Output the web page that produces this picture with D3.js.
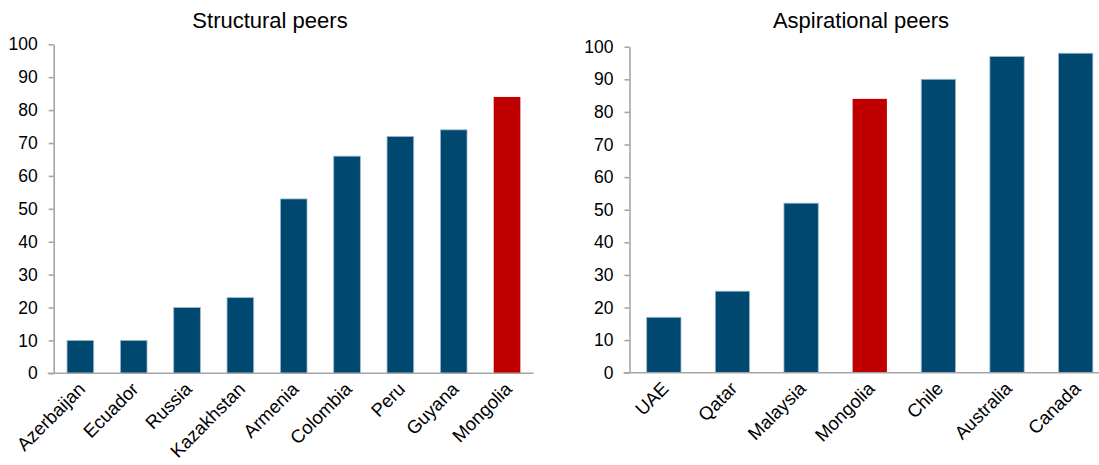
<!DOCTYPE html>
<html>
<head>
<meta charset="utf-8">
<script src="https://cdn.jsdelivr.net/npm/d3@7"></script>
<style>
  body { margin: 0; background: #fff; }
  text { font-family: "Liberation Sans", Arial, sans-serif; fill: #000; }
</style>
</head>
<body>
<div id="chart"></div>
<script>
// structural peers
var structCountries = ["Azerbaijan", "Ecuador", "Russia", "Kazakhstan", "Armenia", "Colombia", "Peru", "Guyana", "Mongolia"];
var structValues = [10, 10, 20, 23, 53, 66, 72, 74, 84];

// aspirational peers
var aspCountries = ["UAE", "Qatar", "Malaysia", "Mongolia", "Chile", "Australia", "Canada"];
var aspValues = [17, 25, 52, 84, 90, 97, 98];

var yTicks = [0, 10, 20, 30, 40, 50, 60, 70, 80, 90, 100];
var highlight = "Mongolia";

var w = 1099;
var h = 465;

var svg = d3.select("#chart")
    .append("svg")
    .attr("width", w)
    .attr("height", h);

function drawPanel(title, cats, vals, left, right, top, bottom, titleX) {
    var data = cats.map(function (c, i) { return { name: c, value: vals[i] }; });

    var x = d3.scaleBand()
        .domain(cats)
        .range([left, right])
        .paddingInner(0.5)
        .paddingOuter(0.25);
    var y = d3.scaleLinear()
        .domain([0, 100])
        .range([bottom, top]);

    var g = svg.append("g");

    g.selectAll("rect")
        .data(data)
        .enter().append("rect")
        .attr("x", function (d) { return x(d.name); })
        .attr("width", x.bandwidth())
        .attr("y", function (d) { return y(d.value); })
        .attr("height", function (d) { return y(0) - y(d.value); })
        .attr("fill", function (d) { return d.name == highlight ? "#c00000" : "#00486f"; })
        .attr("stroke", function (d) { return d.name == highlight ? "none" : "#9fbcd1"; })
        .attr("stroke-width", 0.8);

    var yaxis = d3.axisLeft(y)
        .tickValues(yTicks)
        .tickSize(5)
        .tickPadding(11)
        .tickSizeOuter(0);
    var gY = g.append("g")
        .attr("transform", "translate(" + left + ",0)")
        .call(yaxis);
    gY.selectAll("text").style("font-size", "17.5px");
    gY.select(".domain").attr("stroke", "#a6a6a6").attr("stroke-width", 1.6);
    gY.selectAll(".tick line").attr("stroke", "#a6a6a6").attr("stroke-width", 1.6);

    var xaxis = d3.axisBottom(x).tickSize(0).tickSizeOuter(0).tickPadding(0);
    var gX = g.append("g")
        .attr("transform", "translate(0," + bottom + ")")
        .call(xaxis);
    gX.select(".domain")
        .attr("d", "M" + (left - 6) + ",0H" + right)
        .attr("stroke", "#a6a6a6").attr("stroke-width", 1.6);
    gX.selectAll("text")
        .style("font-size", "18.5px")
        .attr("text-anchor", "end")
        .attr("dy", null)
        .attr("y", 0)
        .attr("transform", "translate(6,17) rotate(-45)");

    g.append("text")
        .attr("x", titleX)
        .attr("y", 28)
        .attr("text-anchor", "middle")
        .style("font-size", "22px")
        .text(title);
}

drawPanel("Structural peers", structCountries, structValues, 53.7, 533.7, 44.3, 373.3, 270);
drawPanel("Aspirational peers", aspCountries, aspValues, 629.5, 1110, 46.7, 372.7, 861);
</script>
</body>
</html>
